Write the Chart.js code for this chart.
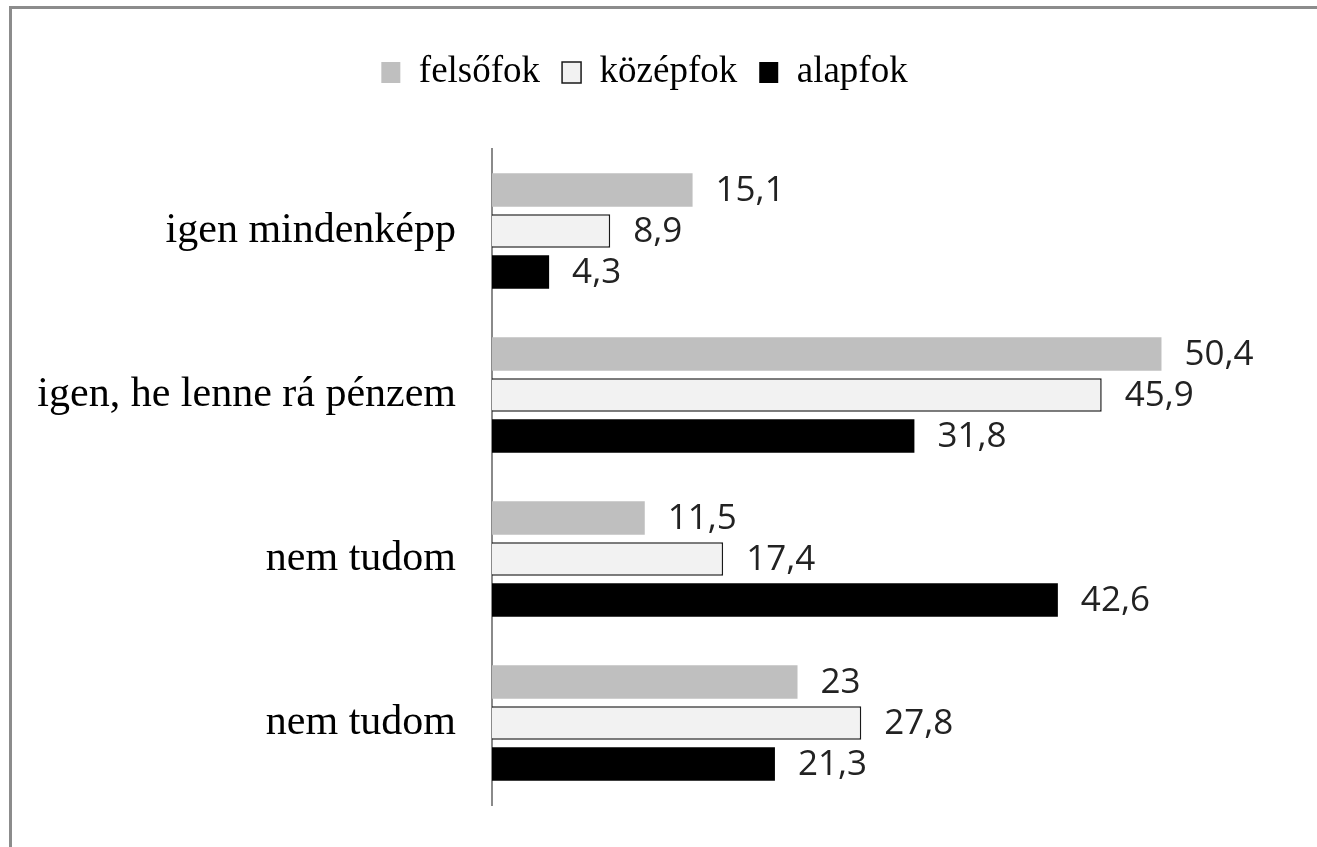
<!DOCTYPE html>
<html>
<head>
<meta charset="utf-8">
<script src="https://cdn.jsdelivr.net/npm/chart.js@4/dist/chart.umd.min.js"></script>
<style>
    html, body { margin: 0; padding: 0; background: #fff; overflow: hidden; }
    #wrap { position: relative; width: 1317px; height: 847px; }
    #frame {
        position: absolute; left: 9px; top: 6px; right: -20px; bottom: -20px;
        border-top: 3px solid #8c8c8c; border-left: 3px solid #8c8c8c;
        pointer-events: none;
    }
</style>
</head>
<body>
<div id="wrap">
    <canvas id="chart"></canvas>
    <div id="frame"></div>
</div>
<script>
// Données du graphique
const categories = ['igen mindenképp', 'igen, he lenne rá pénzem', 'nem tudom', 'nem tudom'];
const seriesNames = ['felsőfok', 'középfok', 'alapfok'];
const felsofok = [15.1, 50.4, 11.5, 23];
const kozepfok = [8.9, 45.9, 17.4, 27.8];
const alapfok = [4.3, 31.8, 42.6, 21.3];

// Espace supplémentaire sous la légende
const legendSpacer = {
    id: 'legendSpacer',
    beforeInit(chart) {
        const originalFit = chart.legend.fit;
        chart.legend.fit = function() {
            originalFit.bind(chart.legend)();
            this.height += 48;
        };
    }
};

// Étiquettes de valeurs à droite des barres
const valueLabels = {
    id: 'valueLabels',
    afterDatasetsDraw(chart) {
        const ctx = chart.ctx;
        ctx.save();
        ctx.font = '35px "Open Sans"';
        ctx.fillStyle = '#222';
        ctx.textAlign = 'left';
        ctx.textBaseline = 'middle';
        chart.data.datasets.forEach((ds, i) => {
            chart.getDatasetMeta(i).data.forEach((bar, j) => {
                const txt = String(ds.data[j]).replace('.', ',');
                ctx.fillText(txt, bar.x + 23, bar.y + 1);
            });
        });
        ctx.restore();
    }
};

new Chart(document.getElementById('chart'), {
    type: 'bar',
    data: {
        labels: categories,
        datasets: [{
            label: seriesNames[0],
            data: felsofok,
            backgroundColor: '#bfbfbf',
            borderColor: '#bfbfbf',
            borderWidth: 0
        }, {
            label: seriesNames[1],
            data: kozepfok,
            backgroundColor: '#f2f2f2',
            borderColor: '#1a1a1a',
            borderWidth: 1.5
        }, {
            label: seriesNames[2],
            data: alapfok,
            backgroundColor: '#000000',
            borderColor: '#000000',
            borderWidth: 0
        }]
    },
    options: {
        indexAxis: 'y',
        responsive: true,
        maintainAspectRatio: false,
        animation: false,
        categoryPercentage: 0.75,
        barPercentage: 0.82,
        layout: {
            padding: { top: 32, right: 28, bottom: 42, left: 0 }
        },
        plugins: {
            legend: {
                display: true,
                position: 'top',
                labels: {
                    boxWidth: 19,
                    boxHeight: 21,
                    padding: 22,
                    color: '#000',
                    font: { family: '"Liberation Serif"', size: 37 }
                }
            },
            tooltip: { enabled: false }
        },
        scales: {
            x: {
                display: false,
                min: 0,
                max: 60
            },
            y: {
                grid: { display: false },
                border: { display: true, color: '#8a8a8a', width: 2 },
                ticks: {
                    color: '#000',
                    padding: 28,
                    font: { family: '"Liberation Serif"', size: 42 }
                },
                afterFit: function(scale) {
                    scale.width = 492;
                    scale.paddingTop = 0;
                    scale.paddingBottom = 0;
                }
            }
        }
    },
    plugins: [legendSpacer, valueLabels]
});
</script>
</body>
</html>
